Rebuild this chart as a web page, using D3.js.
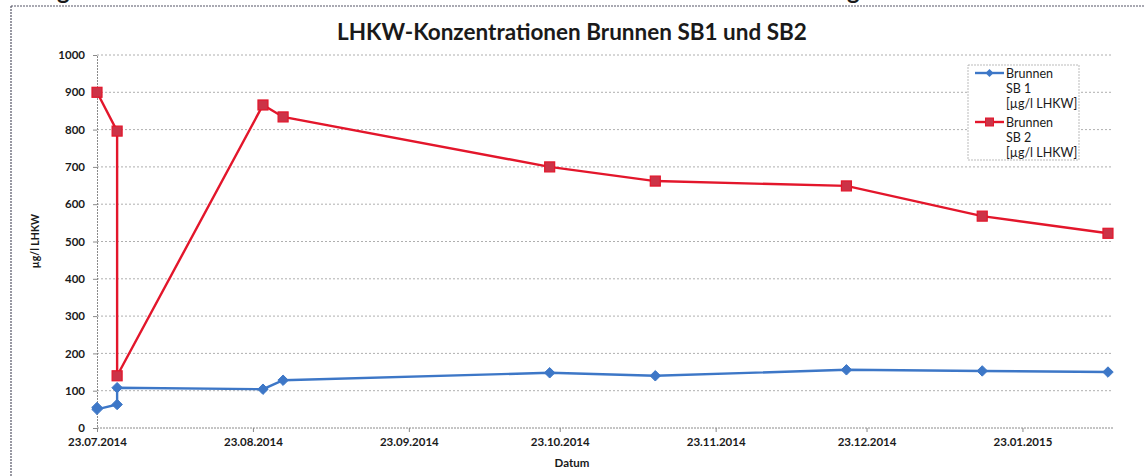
<!DOCTYPE html>
<html><head><meta charset="utf-8">
<script src="https://cdn.jsdelivr.net/npm/d3@7"></script>
<style>
html,body{margin:0;padding:0;background:#fff;}
svg{display:block;}
text{font-family:Lato,"Open Sans",sans-serif;fill:#1a1a1a;}
</style></head><body>
<svg id="c" width="1144" height="476"></svg>
<script>
const sb1Dates = ["2014-07-23","2014-07-23","2014-07-27","2014-07-27","2014-08-25","2014-08-29","2014-10-21","2014-11-11","2014-12-19","2015-01-15","2015-02-09"];
const sb1Values = [55,50,63,108,104,128,148,140,156,153,150];
const sb2Dates = ["2014-07-23","2014-07-27","2014-07-27","2014-08-25","2014-08-29","2014-10-21","2014-11-11","2014-12-19","2015-01-15","2015-02-09"];
const sb2Values = [900,796,140,866,834,700,662,649,568,522];
const xTickDates = ["2014-07-23","2014-08-23","2014-09-23","2014-10-23","2014-11-23","2014-12-23","2015-01-23"];
const yTicks = [0,100,200,300,400,500,600,700,800,900,1000];
const seriesNames = [["Brunnen","SB 1","[µg/l LHKW]"],["Brunnen","SB 2","[µg/l LHKW]"]];
const titleText = "LHKW-Konzentrationen Brunnen SB1 und SB2";

const parse = d3.timeParse("%Y-%m-%d");
const fmt = d3.timeFormat("%d.%m.%Y");
const svg = d3.select("#c");

// outer frame (cropped figure)
svg.append("line").attr("x1",11).attr("x2",1144).attr("y1",6).attr("y2",6)
  .attr("stroke","#556").attr("stroke-width",1.2).attr("stroke-dasharray","2,1");
svg.append("line").attr("x1",11).attr("x2",11).attr("y1",6).attr("y2",476)
  .attr("stroke","#556").attr("stroke-width",1.2).attr("stroke-dasharray","2,1");
// cropped heading descenders
svg.append("text").attr("x",57).attr("y",-1).attr("font-size",24).attr("font-weight","bold").text("g");
svg.append("text").attr("x",847).attr("y",-1).attr("font-size",24).attr("font-weight","bold").text("g");

const x = d3.scaleTime().domain([parse("2014-07-23"), parse("2015-02-10")]).range([97,1113]);
const y = d3.scaleLinear().domain([0,1000]).range([428,55]);

// gridlines
svg.append("g").selectAll("line").data(yTicks.filter(d=>d>0)).join("line")
  .attr("x1",97).attr("x2",1113).attr("y1",d=>y(d)).attr("y2",d=>y(d))
  .attr("stroke","#9a9a9a").attr("stroke-width",0.8).attr("stroke-dasharray","2,2");

// y axis
const yAxis = svg.append("g").attr("transform","translate(97,0)")
  .call(d3.axisLeft(y).tickValues(yTicks).tickFormat(d3.format("d")).tickSize(4).tickPadding(8));
yAxis.select(".domain").attr("stroke","#8a8a8a").attr("stroke-dasharray","2,1");
yAxis.selectAll(".tick line").attr("stroke","#8a8a8a");
yAxis.selectAll("text").attr("font-size",11.5).attr("font-weight","bold").attr("fill","#222")
  .style("font-family","Lato, sans-serif");

// x axis
const xAxis = svg.append("g").attr("transform","translate(0,428)")
  .call(d3.axisBottom(x).tickValues(xTickDates.map(parse)).tickFormat(fmt).tickSize(4).tickPadding(6).tickSizeOuter(0));
xAxis.select(".domain").attr("stroke","#8a8a8a").attr("stroke-dasharray","2,1")
  .attr("d","M97,0H1113");
xAxis.selectAll(".tick line").attr("stroke","#8a8a8a");
xAxis.selectAll("text").attr("font-size",11.5).attr("font-weight","bold").attr("fill","#222")
  .style("font-family","Lato, sans-serif");

// titles
svg.append("text").attr("x",572).attr("y",40).attr("text-anchor","middle")
  .attr("font-size",22.5).attr("font-weight","bold").attr("fill","#111").text(titleText);
svg.append("text").attr("x",572).attr("y",467).attr("text-anchor","middle")
  .attr("font-size",11.5).attr("font-weight","bold").text("Datum");
svg.append("text").attr("transform","translate(39,241) rotate(-90)").attr("text-anchor","middle")
  .attr("font-size",10.5).attr("font-weight","bold").text("µg/l LHKW");

const blue = "#3d77c7", red = "#e3162b";
const d1 = sb1Dates.map((d,i)=>({x:parse(d), y:sb1Values[i]}));
const d2 = sb2Dates.map((d,i)=>({x:parse(d), y:sb2Values[i]}));
const line = d3.line().x(d=>x(d.x)).y(d=>y(d.y));

svg.append("path").datum(d1).attr("d",line).attr("fill","none").attr("stroke",blue).attr("stroke-width",2.4);
svg.append("path").datum(d2).attr("d",line).attr("fill","none").attr("stroke",red).attr("stroke-width",2.4);

const diamond = d3.symbol().type(d3.symbolDiamond2).size(70);
svg.append("g").selectAll("path").data(d1).join("path")
  .attr("transform",d=>`translate(${x(d.x)},${y(d.y)})`).attr("d",diamond)
  .attr("fill",blue).attr("stroke",blue).attr("stroke-width",1);
svg.append("g").selectAll("rect").data(d2).join("rect")
  .attr("x",d=>x(d.x)-5).attr("y",d=>y(d.y)-5).attr("width",10).attr("height",10)
  .attr("fill","#cc3347").attr("stroke",red).attr("stroke-width",1.2);

// legend
const lg = svg.append("g");
lg.append("rect").attr("x",968).attr("y",65).attr("width",111).attr("height",95)
  .attr("fill","#fff").attr("stroke","#aaa").attr("stroke-width",0.8).attr("stroke-dasharray","2,1");
const lgY = [73,122];
[blue,red].forEach((c,i)=>{
  lg.append("line").attr("x1",975).attr("x2",1004).attr("y1",lgY[i]).attr("y2",lgY[i]).attr("stroke",c).attr("stroke-width",2.4);
  if(i===0){
    lg.append("path").attr("transform",`translate(989.5,${lgY[i]})`).attr("d",d3.symbol().type(d3.symbolDiamond2).size(40)).attr("fill",c);
  } else {
    lg.append("rect").attr("x",985.5).attr("y",lgY[i]-4).attr("width",8).attr("height",8).attr("fill","#cc3347").attr("stroke",c);
  }
  seriesNames[i].forEach((t,j)=>{
    lg.append("text").attr("x",1006).attr("y",lgY[i]+4.5+j*15).attr("font-size",12.5).attr("fill","#222").text(t);
  });
});
</script>
</body></html>
